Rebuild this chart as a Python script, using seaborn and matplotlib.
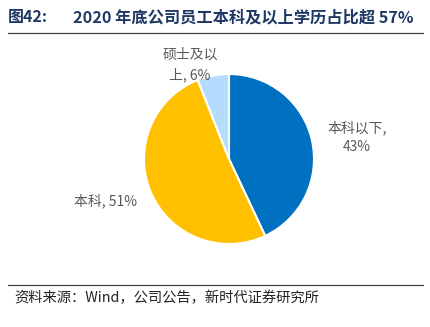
import matplotlib
matplotlib.use("Agg")
import matplotlib.pyplot as plt
import seaborn as sns

# Education breakdown of company staff at end of 2020
categories = ["本科以下", "本科", "硕士及以上"]
shares = [43, 51, 6]
label_texts = ["本科以下,\n43%", "本科, 51%", "硕士及以\n上, 6%"]
colors = ["#0070C0", "#FFC000", "#B4DCFF"]

sns.set_theme(style="white")
plt.rcParams["font.family"] = ["Noto Sans CJK SC", "DejaVu Sans"]

W, H = 430, 327
fig = plt.figure(figsize=(W / 100, H / 100), dpi=100)

# Title and rule lines
fig.text(8 / W, 1 - 17 / H, "图42:", fontsize=11.5, fontweight="bold",
         color="#1F3864", va="center", ha="left")
fig.text(73 / W, 1 - 17 / H, "2020 年底公司员工本科及以上学历占比超 57%",
         fontsize=11.7, fontweight="bold", color="#1F3864", va="center", ha="left")
fig.add_artist(plt.Line2D([8 / W, 423 / W], [1 - 33 / H, 1 - 33 / H],
                          color="#404040", lw=0.9))
fig.add_artist(plt.Line2D([8 / W, 423 / W], [1 - 285 / H, 1 - 285 / H],
                          color="#404040", lw=0.9))
fig.text(14 / W, 1 - 298 / H, "资料来源：Wind，公司公告，新时代证券研究所",
         fontsize=10.3, color="#222222", va="center", ha="left")

# Pie axes
cx, cy, r = 229, 159, 85
half = 95
ax = fig.add_axes([(cx - half) / W, (H - cy - half) / H, 2 * half / W, 2 * half / H])
wedges, _ = ax.pie(shares, colors=colors, startangle=90, counterclock=False,
                   radius=1.0, wedgeprops=dict(edgecolor="white", linewidth=1.5))
ax.set_xlim(-half / r, half / r)
ax.set_ylim(-half / r, half / r)
ax.set_aspect("equal")
ax.axis("off")

# Data labels
label_pos = [(357, 137), (106, 201), (190, 65)]
for txt, (x, y) in zip(label_texts, label_pos):
    fig.text(x / W, 1 - y / H, txt, fontsize=10, color="#595959",
             ha="center", va="center", linespacing=1.45, multialignment="center")

fig.savefig("out.png", dpi=100)
